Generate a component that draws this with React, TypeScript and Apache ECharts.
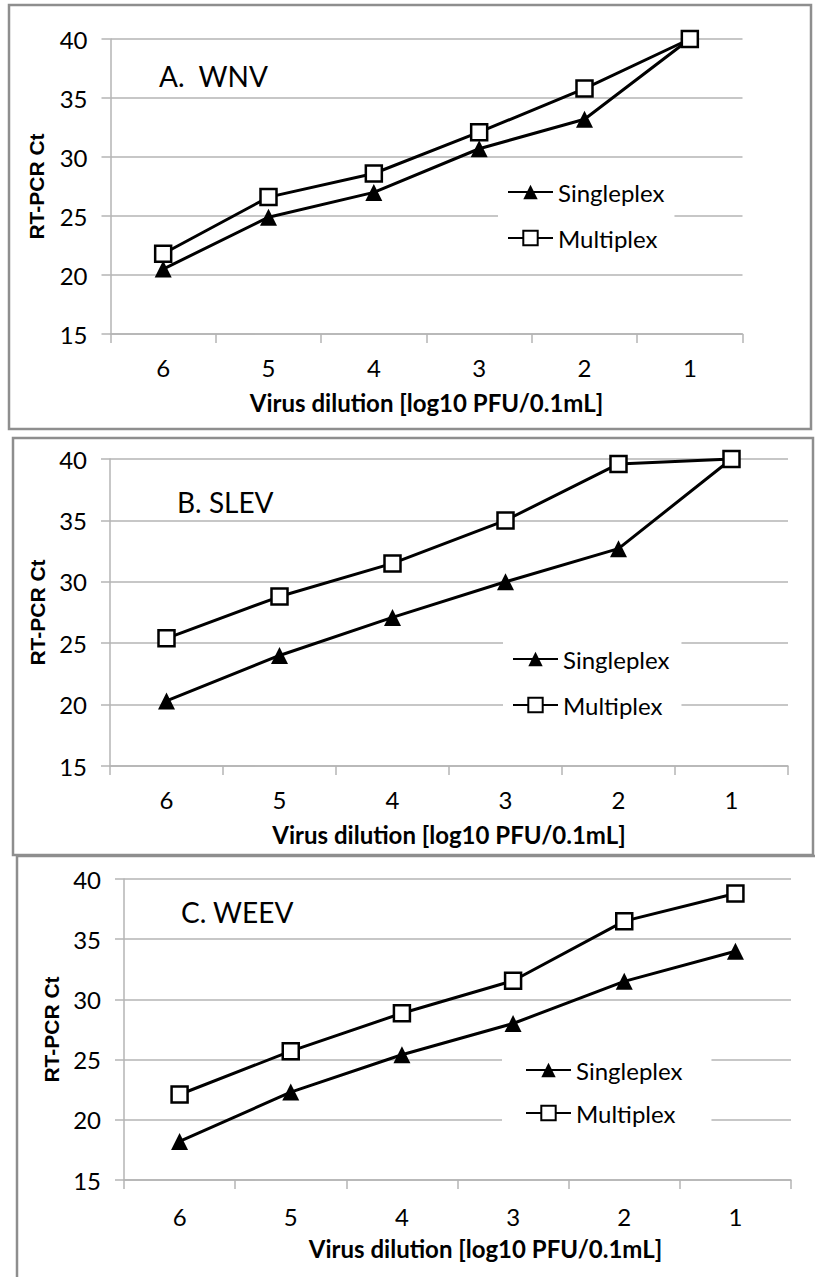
import React, { useEffect, useRef } from "react";
import * as echarts from "echarts";

const categories = ["6", "5", "4", "3", "2", "1"];
const wnvSingle = [20.5, 24.9, 27.0, 30.7, 33.2, 40.0];
const wnvMulti = [21.8, 26.6, 28.6, 32.1, 35.8, 40.0];
const slevSingle = [20.3, 24.0, 27.1, 30.0, 32.7, 40.0];
const slevMulti = [25.4, 28.8, 31.5, 35.0, 39.6, 40.0];
const weevSingle = [18.2, 22.3, 25.4, 28.0, 31.5, 34.0];
const weevMulti = [22.1, 25.7, 28.85, 31.55, 36.5, 38.8];
const yMin = 15;
const yMax = 40;
const yStep = 5;
const panelLabels = ["A.  WNV", "B. SLEV", "C. WEEV"];
const seriesNames = ["Singleplex", "Multiplex"];
const xTitle = "Virus dilution [log10 PFU/0.1mL]";
const yTitle = "RT-PCR Ct";

const FONT = "Lato, 'Open Sans', sans-serif";
const GRID_COLOR = "#b4b4b4";
const BORDER_COLOR = "#8e8e8e";

const panels = [
  {
    grid: { left: 110.5, top: 39, width: 632, height: 295 },
    single: wnvSingle, multi: wnvMulti, label: panelLabels[0],
    labelPos: [159, 76],
    legend: { left: 498, top: 174, padding: [6, 10, 6, 9], gap: 22 },
    labelMargin: 21, namePad: 0, yNameGap: 64,
  },
  {
    grid: { left: 110, top: 459, width: 678, height: 307 },
    single: slevSingle, multi: slevMulti, label: panelLabels[1],
    labelPos: [177, 502],
    legend: { left: 503, top: 641, padding: [6, 12, 6, 9], gap: 22 },
    labelMargin: 21, namePad: 0, yNameGap: 62,
  },
  {
    grid: { left: 124, top: 879, width: 667, height: 301 },
    single: weevSingle, multi: weevMulti, label: panelLabels[2],
    labelPos: [181, 912],
    legend: { left: 502, top: 1052, padding: [6, 29, 6, 23], gap: 19 },
    labelMargin: 24, namePad: 56, yNameGap: 62,
  },
];

export default function App() {
  const ref = useRef<HTMLDivElement>(null);

  useEffect(() => {
    document.body.style.margin = "0";
    if (!ref.current) return;
    const chart = echarts.init(ref.current, undefined, { renderer: "svg" });

    const grids: any[] = [];
    const xAxes: any[] = [];
    const yAxes: any[] = [];
    const series: any[] = [];
    const legends: any[] = [];
    const graphics: any[] = [
      { type: "rect", shape: { x: 9, y: 5, width: 802, height: 424 }, style: { fill: "none", stroke: BORDER_COLOR, lineWidth: 2.5 }, z: 0 },
      { type: "rect", shape: { x: 13, y: 438, width: 800, height: 417 }, style: { fill: "none", stroke: BORDER_COLOR, lineWidth: 2.5 }, z: 0 },
      { type: "rect", shape: { x: 17, y: 856, width: 900, height: 500 }, style: { fill: "none", stroke: BORDER_COLOR, lineWidth: 2.5 }, z: 0 },
    ];

    panels.forEach((p, i) => {
      grids.push({ ...p.grid, containLabel: false });
      xAxes.push({
        type: "category",
        gridIndex: i,
        data: categories,
        boundaryGap: true,
        axisLine: { show: true, lineStyle: { color: GRID_COLOR, width: 1.5 } },
        axisTick: { show: true, length: 9, inside: false, lineStyle: { color: GRID_COLOR, width: 1.5 } },
        axisLabel: { color: "#000", fontFamily: FONT, fontSize: 24, margin: p.labelMargin },
        name: xTitle,
        nameLocation: "middle",
        nameGap: 56,
        nameTextStyle: {
          color: "#000", fontFamily: FONT, fontSize: 24, fontWeight: "bold",
          padding: [0, 0, 0, p.namePad],
        },
      });
      yAxes.push({
        type: "value",
        gridIndex: i,
        min: yMin,
        max: yMax,
        interval: yStep,
        axisLine: { show: true, lineStyle: { color: GRID_COLOR, width: 1.5 } },
        axisTick: { show: true, length: 9, inside: false, lineStyle: { color: GRID_COLOR, width: 1.5 } },
        splitLine: { show: true, lineStyle: { color: GRID_COLOR, width: 1.5 } },
        axisLabel: { color: "#000", fontFamily: FONT, fontSize: 24, margin: 23 },
        name: yTitle,
        nameLocation: "middle",
        nameRotate: 90,
        nameGap: p.yNameGap,
        nameTextStyle: { color: "#000", fontFamily: "'Liberation Sans', Arial, sans-serif", fontSize: 21, fontWeight: "bold" },
      });
      series.push({
        name: seriesNames[0],
        type: "line",
        xAxisIndex: i,
        yAxisIndex: i,
        data: p.single,
        symbol: "triangle",
        symbolSize: 17,
        lineStyle: { color: "#000", width: 3 },
        itemStyle: { color: "#000", borderColor: "#000", borderWidth: 0 },
        z: 3,
      });
      series.push({
        name: seriesNames[1],
        type: "line",
        xAxisIndex: i,
        yAxisIndex: i,
        data: p.multi,
        symbol: "rect",
        symbolSize: 16,
        lineStyle: { color: "#000", width: 3 },
        itemStyle: { color: "#fff", borderColor: "#000", borderWidth: 2.5 },
        z: 3,
      });
      legends.push({
        show: true,
        orient: "vertical",
        left: p.legend.left,
        top: p.legend.top,
        padding: p.legend.padding,
        itemGap: p.legend.gap,
        itemWidth: 45,
        itemHeight: 18,
        backgroundColor: "#fff",
        selectedMode: false,
        data: seriesNames,
        textStyle: { color: "#000", fontFamily: FONT, fontSize: 24, lineHeight: 24 },
        z: 2,
      });
      graphics.push({
        type: "text",
        x: p.labelPos[0],
        y: p.labelPos[1],
        style: { text: p.label, fill: "#000", font: `28px ${FONT}`, textVerticalAlign: "middle" },
        z: 5,
      });
    });

    chart.setOption({
      animation: false,
      backgroundColor: "#fff",
      grid: grids,
      xAxis: xAxes,
      yAxis: yAxes,
      legend: legends,
      series,
      graphic: graphics,
    });

    return () => chart.dispose();
  }, []);

  return (
    <div
      ref={ref}
      style={{ position: "absolute", left: 0, top: 0, width: 815, height: 1277 }}
    />
  );
}
